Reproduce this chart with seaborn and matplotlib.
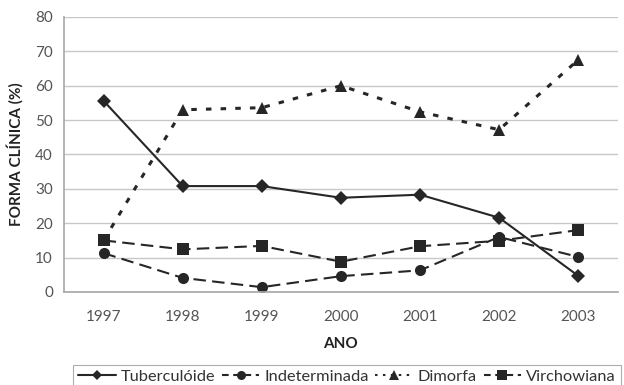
import matplotlib
matplotlib.use("Agg")
import matplotlib.pyplot as plt
import seaborn as sns
import pandas as pd
import numpy as np

years = ["1997", "1998", "1999", "2000", "2001", "2002", "2003"]
tuberculoide = [55.6, 30.8, 30.8, 27.4, 28.3, 21.6, 4.7]
indeterminada = [11.3, 4.1, 1.4, 4.6, 6.3, 16.0, 10.2]
dimorfa = [15.0, 53.0, 53.6, 60.0, 52.4, 47.2, 67.5]
virchowiana = [15.0, 12.4, 13.4, 8.8, 13.3, 14.9, 18.0]

series_names = ["Tuberculóide", "Indeterminada", "Dimorfa", "Virchowiana"]
series_values = [tuberculoide, indeterminada, dimorfa, virchowiana]

rows = []
for name, vals in zip(series_names, series_values):
    for i, v in enumerate(vals):
        rows.append({"pos": i, "ano": years[i], "serie": name, "valor": v})
df = pd.DataFrame(rows)

sns.set_theme(style="white")
plt.rcParams["font.family"] = ["Lato", "DejaVu Sans"]

fig = plt.figure(figsize=(6.24, 3.85), dpi=100)
ax = fig.add_axes([0.1026, 0.2416, 0.8874, 0.7144])

ink = "#262626"
markers = {"Tuberculóide": "D", "Indeterminada": "o", "Dimorfa": "^", "Virchowiana": "s"}
dashes = {"Tuberculóide": "", "Indeterminada": (6, 3), "Dimorfa": (1.8, 3.0), "Virchowiana": (6, 3)}
legend_dashes = {"Tuberculóide": None, "Indeterminada": (3.2, 2.2), "Dimorfa": (1.2, 2.6), "Virchowiana": (3.2, 2.2)}
msize = {"Tuberculóide": 7, "Indeterminada": 8, "Dimorfa": 8, "Virchowiana": 8.5}

sns.lineplot(data=df, x="pos", y="valor", hue="serie", style="serie",
             hue_order=series_names, style_order=series_names,
             palette={n: ink for n in series_names},
             markers=markers, dashes=dashes, linewidth=1.5,
             markersize=8, markeredgewidth=0, ax=ax, legend=False)

for line, name in zip(ax.lines, series_names):
    line.set_markersize(msize[name])
    if name == "Dimorfa":
        line.set_linewidth(2.2)

ax.set_xlim(-0.5, len(years) - 0.5)
ax.set_ylim(0, 80)
ax.set_yticks(np.arange(0, 81, 10))
ax.set_xticks(range(len(years)))
ax.set_xticklabels(years)
ax.set_xticks(np.arange(-0.5, len(years), 1.0), minor=True)
ax.tick_params(axis="x", which="major", length=0, pad=13, labelsize=11, colors="#555555")
ax.tick_params(axis="x", which="minor", length=5, direction="in", color="#aaaaaa")
ax.tick_params(axis="y", length=4, color="#aaaaaa", labelsize=11, colors="#555555", pad=4)

ax.yaxis.grid(True, color="#c8c8c8", linewidth=1.0)
ax.set_axisbelow(True)
for s in ["top", "right"]:
    ax.spines[s].set_visible(False)
ax.spines["left"].set_color("#aaaaaa")
ax.spines["bottom"].set_color("#aaaaaa")

ax.set_xlabel("ANO", fontsize=11, fontweight="bold", color="#222222", labelpad=9)
ax.set_ylabel("FORMA CLÍNICA (%)", fontsize=11, fontweight="bold", color="#222222", labelpad=8)

handles = []
for name in series_names:
    h = plt.Line2D([], [], color=ink, marker=markers[name], markersize=msize[name] - 1.5,
                   markeredgewidth=0, linewidth=1.5)
    if legend_dashes[name]:
        h.set_dashes(legend_dashes[name])
    handles.append(h)
leg = fig.legend(handles, series_names, loc="lower center", bbox_to_anchor=(0.556, -0.010),
                 ncol=4, frameon=True, fancybox=False, fontsize=11.8,
                 handlelength=2.3, handletextpad=0.3, columnspacing=0.4,
                 borderpad=0.3, borderaxespad=0)
leg.get_frame().set_edgecolor("#999999")
leg.get_frame().set_linewidth(0.8)
for t in leg.get_texts():
    t.set_color("#333333")

fig.savefig("out.png", dpi=100)
